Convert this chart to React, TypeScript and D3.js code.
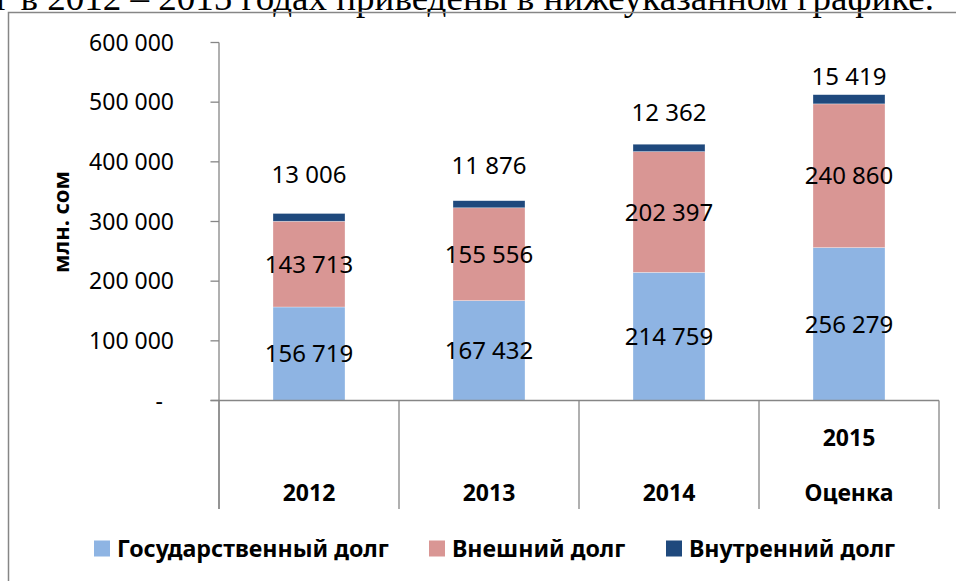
import React from "react";
import * as d3 from "d3";

const categories = ["2012", "2013", "2014", "2015"];
const categoryLines = [["2012"], ["2013"], ["2014"], ["2015", "Оценка"]];
const stateDebt = [156719, 167432, 214759, 256279];
const externalDebt = [143713, 155556, 202397, 240860];
const internalDebt = [13006, 11876, 12362, 15419];
const seriesNames = ["Государственный долг", "Внешний долг", "Внутренний долг"];
const seriesColors = ["#8EB4E3", "#D99694", "#1F497D"];
const yTicks = [0, 100000, 200000, 300000, 400000, 500000, 600000];
const yTitle = "млн. сом";
const headerText = "г в 2012 – 2015 годах приведены в нижеуказанном графике.";

// layout: how far (px) the top label sits above each bar (manually placed in the original)
const topLabelLift = [39, 35, 32, 18];
const legendX = [94, 429, 666];

const W = 956;
const H = 581;
const FONT = "'Noto Sans', 'Open Sans', sans-serif";

const locale = d3.formatLocale({ decimal: ",", thousands: " ", grouping: [3], currency: ["", ""] });
const fmt = locale.format(",");

export default function App() {
  const x = d3.scaleBand<string>().domain(categories).range([219, 939]).paddingInner(0.6).paddingOuter(0.3);
  const y = d3.scaleLinear().domain([0, 600000]).range([400.5, 42.5]);
  const step = x.step();
  const bw = x.bandwidth();

  const stack = d3
    .stack<number>()
    .keys(["0", "1", "2"])
    .value((i, k) => [stateDebt, externalDebt, internalDebt][+k][i]);
  const stacked = stack(categories.map((_, i) => i));

  const axisColor = "#868686";
  const bandEdges = d3.range(categories.length + 1).map((i) => 219 + i * step);

  return (
    <div style={{ position: "absolute", left: 0, top: 0 }}>
      <svg width={W} height={H} style={{ display: "block", background: "#fff" }}>
        <text
          x={-4}
          y={9.5}
          fontFamily="'Liberation Serif', 'Times New Roman', serif"
          fontSize={36}
          textLength={938}
          lengthAdjust="spacingAndGlyphs"
          fill="#000"
        >
          {headerText}
        </text>
        <rect x={8.5} y={12.5} width={960} height={600} fill="none" stroke="#868686" strokeWidth={1.5} />

        {/* y-axis */}
        <line x1={219} x2={219} y1={y(600000)} y2={509} stroke={axisColor} strokeWidth={1.3} />
        {yTicks.map((t) => (
          <g key={t}>
            <line x1={210.5} x2={219} y1={y(t)} y2={y(t)} stroke={axisColor} strokeWidth={1.3} />
            <text
              x={t === 0 ? 163 : 174}
              y={y(t)}
              dy="0.36em"
              textAnchor="end"
              fontFamily={FONT}
              fontSize={23}
              fill="#000"
            >
              {t === 0 ? "-" : fmt(t)}
            </text>
          </g>
        ))}
        <text
          transform={`translate(${69},${222}) rotate(-90)`}
          textAnchor="middle"
          fontFamily={FONT}
          fontWeight="bold"
          fontSize={22}
          fill="#000"
        >
          {yTitle}
        </text>

        {/* bars */}
        {stacked.map((layer, si) =>
          layer.map((d, i) => (
            <rect
              key={`${si}-${i}`}
              x={x(categories[i])!}
              y={y(d[1])}
              width={bw}
              height={y(d[0]) - y(d[1])}
              fill={seriesColors[si]}
              stroke="#ffffff"
              strokeOpacity={0.5}
              strokeWidth={0.6}
            />
          ))
        )}

        {/* x-axis */}
        <line x1={210.5} x2={939} y1={y(0)} y2={y(0)} stroke={axisColor} strokeWidth={1.3} />
        {bandEdges.map((bx, i) => (
          <line key={i} x1={bx} x2={bx} y1={y(0)} y2={509} stroke={axisColor} strokeWidth={1.3} />
        ))}
        {categoryLines.map((lines, i) => {
          const cx = x(categories[i])! + bw / 2;
          return lines.map((ln, j) => (
            <text
              key={`${i}-${j}`}
              x={cx}
              y={493 - (lines.length - 1 - j) * 55}
              dy="0.36em"
              textAnchor="middle"
              fontFamily={FONT}
              fontWeight="bold"
              fontSize={23}
              fill="#000"
            >
              {ln}
            </text>
          ));
        })}

        {/* data labels */}
        {stacked.map((layer, si) =>
          layer.map((d, i) => {
            const cx = x(categories[i])! + bw / 2;
            const cy = si < 2 ? (y(d[0]) + y(d[1])) / 2 : y(d[1]) - topLabelLift[i];
            const v = [stateDebt, externalDebt, internalDebt][si][i];
            return (
              <text
                key={`l${si}-${i}`}
                x={cx}
                y={cy}
                dy="0.36em"
                textAnchor="middle"
                fontFamily={FONT}
                fontSize={24}
                fill="#000"
              >
                {fmt(v)}
              </text>
            );
          })
        )}

        {/* legend */}
        {seriesNames.map((n, i) => (
          <g key={n}>
            <rect x={legendX[i]} y={540.5} width={16} height={16} fill={seriesColors[i]} />
            <text
              x={legendX[i] + 23}
              y={548.5}
              dy="0.36em"
              fontFamily={FONT}
              fontWeight="bold"
              fontSize={23.2}
              fill="#000"
            >
              {n}
            </text>
          </g>
        ))}
      </svg>
    </div>
  );
}
